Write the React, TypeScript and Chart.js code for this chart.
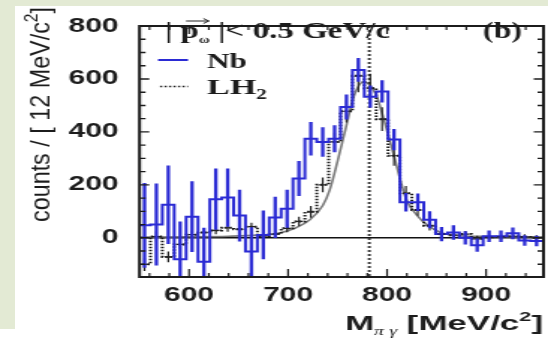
import React, { useEffect, useRef } from "react";
import { Chart, registerables } from "chart.js";

Chart.register(...registerables);

// π0γ invariant mass, ω candidates with |p_ω| < 0.5 GeV/c: Nb target vs LH2 reference
const binCenters = [
  555, 567, 579, 591, 603, 615, 627, 639, 651, 663, 675, 687, 699, 711, 723, 735, 747,
  759, 771, 783, 795, 807, 819, 831, 843, 855, 867, 879, 891, 903, 915, 927, 939, 951,
];
const nbCounts = [
  47, 50, 125, -81, 80, -90, 146, 152, 84, -52, 11, 77, 110, 224, 374, 362, 374,
  494, 634, 533, 553, 371, 134, 134, 68, 14, 20, 0, -28, 6, 6, 17, -10, -12,
];
const nbErrors = [
  160, 155, 148, 143, 134, 128, 116, 110, 98, 92, 92, 78, 72, 66, 63, 56, 51,
  47, 45, 42, 42, 40, 35, 33, 32, 27, 27, 25, 25, 22, 22, 22, 20, 20,
];
const lh2Counts = [
  -100, 5, -72, -25, 12, 20, 28, 38, 32, 42, 6, 14, 36, 62, 98, 200, 362,
  478, 612, 565, 448, 310, 168, 105, 46, 14, 10, 14, -4, 2, 4, 6, 3, 0,
];
const lh2Errors = [
  25, 20, 20, 18, 15, 15, 15, 15, 15, 15, 12, 14, 15, 18, 22, 28, 35,
  42, 62, 55, 45, 38, 28, 22, 18, 14, 12, 12, 12, 10, 10, 10, 10, 10,
];
// line-shape curve
const fitMass = [
  550, 600, 640, 670, 690, 708, 722, 735, 742, 750, 758, 766, 772, 776, 781, 785,
  790, 795, 800, 808, 813, 820, 830, 840, 854, 874, 900, 958,
];
const fitCounts = [
  3, 4, 6, 10, 17, 38, 68, 122, 180, 290, 410, 530, 578, 590, 582, 565,
  530, 470, 404, 296, 224, 140, 86, 50, 20, 8, 5, 3,
];
const xTickValues = [600, 700, 800, 900];
const yTickValues = [0, 200, 400, 600, 800];
const omegaMass = 782;

const X_MIN = 550;
const X_MAX = 958;
const Y_MIN = -148;
const Y_MAX = 800;

// the figure is drawn on a narrower canvas and widened horizontally
const STAGE_W = 548;
const STAGE_H = 339;
const CANVAS_W = 366;
const SX = STAGE_W / CANVAS_W;
const cx = (px: number) => px / SX;

const NB_BLUE = "#2b2bd4";
const INK = "#1c1c1c";
const SANS = "'Liberation Sans', Arial, Helvetica, sans-serif";
const SERIF = "'Liberation Serif', 'Times New Roman', serif";

const halfBin = (binCenters[1] - binCenters[0]) / 2;

function stepPoints(values: number[]) {
  const pts = binCenters.map((c, i) => ({ x: c - halfBin, y: values[i] }));
  const last = binCenters.length - 1;
  pts.push({ x: binCenters[last] + halfBin, y: values[last] });
  return pts;
}

type Piece = { t: string; font: string; dy?: number };

function drawFitted(
  ctx: CanvasRenderingContext2D,
  pieces: Piece[],
  x: number,
  y: number,
  width: number,
  color: string,
  decorate?: (c: CanvasRenderingContext2D, starts: number[], widths: number[]) => void
) {
  ctx.save();
  const widths: number[] = [];
  let total = 0;
  for (const p of pieces) {
    ctx.font = p.font;
    const w = ctx.measureText(p.t).width;
    widths.push(w);
    total += w;
  }
  const s = width / total;
  ctx.translate(x, y);
  ctx.scale(s, 1);
  ctx.fillStyle = color;
  ctx.strokeStyle = color;
  ctx.textAlign = "left";
  ctx.textBaseline = "alphabetic";
  const starts: number[] = [];
  let pos = 0;
  pieces.forEach((p, i) => {
    starts.push(pos);
    ctx.font = p.font;
    ctx.fillText(p.t, pos, p.dy || 0);
    pos += widths[i];
  });
  if (decorate) decorate(ctx, starts, widths);
  ctx.restore();
}

const decorPlugin = {
  id: "histDecor",
  beforeDatasetsDraw(chart: any) {
    const { ctx, chartArea: a, scales } = chart;
    const y0 = scales.y.getPixelForValue(0);
    ctx.save();
    ctx.beginPath();
    ctx.rect(a.left, a.top, a.right - a.left, a.bottom - a.top);
    ctx.clip();
    ctx.strokeStyle = "#111";
    ctx.lineWidth = 1.6;
    ctx.beginPath();
    ctx.moveTo(a.left, y0);
    ctx.lineTo(a.right, y0);
    ctx.stroke();
    ctx.restore();
  },
  afterDatasetsDraw(chart: any) {
    const { ctx, chartArea: a, scales } = chart;
    const xs = scales.x;
    const ys = scales.y;
    ctx.save();
    ctx.beginPath();
    ctx.rect(a.left, a.top, a.right - a.left, a.bottom - a.top);
    ctx.clip();

    // ω pole mass
    const xm = xs.getPixelForValue(omegaMass);
    ctx.setLineDash([2, 2]);
    ctx.lineWidth = 1.9;
    ctx.strokeStyle = "#333";
    ctx.beginPath();
    ctx.moveTo(xm, a.top);
    ctx.lineTo(xm, a.bottom);
    ctx.stroke();
    ctx.setLineDash([]);

    const bars = (vals: number[], errs: number[], color: string, w: number, cap: number) => {
      ctx.strokeStyle = color;
      ctx.lineWidth = w;
      binCenters.forEach((c, i) => {
        const px = xs.getPixelForValue(c);
        const py = ys.getPixelForValue(vals[i]);
        ctx.beginPath();
        ctx.moveTo(px, ys.getPixelForValue(vals[i] - errs[i]));
        ctx.lineTo(px, ys.getPixelForValue(vals[i] + errs[i]));
        if (cap > 0) {
          ctx.moveTo(px - cap, py);
          ctx.lineTo(px + cap, py);
        }
        ctx.stroke();
      });
    };
    bars(lh2Counts, lh2Errors, "#222", 1.2, 2.5);
    bars(nbCounts, nbErrors, NB_BLUE, 2.3, 0);
    ctx.restore();
  },
  afterDraw(chart: any) {
    const { ctx, chartArea: a, scales } = chart;
    const xs = scales.x;
    const ys = scales.y;
    ctx.save();

    // frame
    ctx.strokeStyle = INK;
    ctx.lineWidth = 2;
    ctx.strokeRect(a.left, a.top, a.right - a.left, a.bottom - a.top);

    // inward tick marks
    ctx.lineWidth = 1.2;
    for (let v = 560; v < X_MAX; v += 20) {
      const px = xs.getPixelForValue(v);
      const len = v % 100 === 0 ? 8 : 4;
      ctx.beginPath();
      ctx.moveTo(px, a.bottom);
      ctx.lineTo(px, a.bottom - len);
      ctx.moveTo(px, a.top);
      ctx.lineTo(px, a.top + len);
      ctx.stroke();
    }
    ctx.lineWidth = 1.4;
    for (let v = -100; v <= Y_MAX; v += 50) {
      const py = ys.getPixelForValue(v);
      const len = v % 200 === 0 ? 6.5 : 4;
      ctx.beginPath();
      ctx.moveTo(a.left, py);
      ctx.lineTo(a.left + len, py);
      ctx.moveTo(a.right, py);
      ctx.lineTo(a.right - len, py);
      ctx.stroke();
    }

    // selection label with momentum vector arrow
    drawFitted(
      ctx,
      [
        { t: "| ", font: `bold 24px ${SERIF}` },
        { t: "p", font: `bold 24px ${SERIF}` },
        { t: "ω", font: `bold 11px ${SERIF}`, dy: 5 },
        { t: " |< 0.5 GeV/c", font: `bold 24px ${SERIF}` },
      ],
      cx(165),
      37.5,
      cx(390) - cx(165),
      INK,
      (c, starts, widths) => {
        const x1 = starts[1] + widths[1] * 0.3;
        const x2 = starts[2] + widths[2] * 0.9;
        const yy = -16.5;
        c.lineWidth = 1;
        c.beginPath();
        c.moveTo(x1, yy);
        c.lineTo(x2, yy);
        c.moveTo(x2 - 4, yy - 2.5);
        c.lineTo(x2, yy);
        c.lineTo(x2 - 4, yy + 2.5);
        c.stroke();
      }
    );
    drawFitted(ctx, [{ t: "(b)", font: `bold 24px ${SERIF}` }], cx(483), 38, cx(522) - cx(483), INK);

    // legend
    ctx.lineWidth = 2;
    ctx.strokeStyle = NB_BLUE;
    ctx.beginPath();
    ctx.moveTo(cx(158), 60);
    ctx.lineTo(cx(188), 60);
    ctx.stroke();
    ctx.lineWidth = 1.5;
    ctx.strokeStyle = "#222";
    ctx.setLineDash([1.5, 1.5]);
    ctx.beginPath();
    ctx.moveTo(cx(160), 86.5);
    ctx.lineTo(cx(188), 86.5);
    ctx.stroke();
    ctx.setLineDash([]);
    drawFitted(ctx, [{ t: "Nb", font: `bold 22px ${SERIF}` }], cx(207), 68, cx(247) - cx(207), INK);
    drawFitted(
      ctx,
      [
        { t: "LH", font: `bold 22px ${SERIF}` },
        { t: "2", font: `bold 14px ${SERIF}`, dy: 5 },
      ],
      cx(207),
      94,
      cx(267) - cx(207),
      INK
    );

    // axis titles
    drawFitted(
      ctx,
      [
        { t: "M", font: `bold 21px ${SANS}` },
        { t: "π γ", font: `italic 12px ${SERIF}`, dy: 5 },
        { t: " [MeV/c", font: `bold 21px ${SANS}` },
        { t: "2", font: `bold 13px ${SANS}`, dy: -9 },
        { t: "]", font: `bold 21px ${SANS}` },
      ],
      cx(345),
      330,
      cx(543) - cx(345),
      INK
    );
    ctx.save();
    ctx.translate(cx(50), 114.5);
    ctx.rotate(-Math.PI / 2);
    drawFitted(
      ctx,
      [
        { t: "counts / [ 12 MeV/c", font: `18px ${SANS}` },
        { t: "2", font: `12px ${SANS}`, dy: -8 },
        { t: "]", font: `18px ${SANS}` },
      ],
      -107.5,
      0,
      215,
      INK
    );
    ctx.restore();

    ctx.restore();
  },
};

export default function App() {
  const canvasRef = useRef<HTMLCanvasElement | null>(null);

  useEffect(() => {
    const canvas = canvasRef.current;
    if (!canvas) return;
    const chart = new Chart(canvas, {
      type: "line",
      data: {
        datasets: [
          {
            label: "Nb",
            data: stepPoints(nbCounts),
            borderColor: NB_BLUE,
            borderWidth: 2,
            stepped: "before",
            pointRadius: 0,
            fill: false,
            clip: 0,
          },
          {
            label: "LH2",
            data: stepPoints(lh2Counts),
            borderColor: "#1a1a1a",
            borderWidth: 2,
            borderDash: [1.5, 1.5],
            stepped: "before",
            pointRadius: 0,
            fill: false,
            clip: 0,
          },
          {
            label: "fit",
            data: fitMass.map((m, i) => ({ x: m, y: fitCounts[i] })),
            borderColor: "#7a7a7a",
            borderWidth: 1.6,
            cubicInterpolationMode: "monotone",
            pointRadius: 0,
            fill: false,
            clip: 0,
          },
        ],
      } as any,
      options: {
        animation: false,
        responsive: true,
        maintainAspectRatio: false,
        devicePixelRatio: 1,
        events: [],
        layout: { padding: { top: 13, right: 3, bottom: 0, left: 0 } },
        plugins: {
          legend: { display: false },
          tooltip: { enabled: false },
          title: { display: false },
        },
        scales: {
          x: {
            type: "linear",
            min: X_MIN,
            max: X_MAX,
            grid: { display: false, drawTicks: false },
            border: { display: false },
            afterBuildTicks: (axis: any) => {
              axis.ticks = xTickValues.map((v) => ({ value: v }));
            },
            afterFit: (axis: any) => {
              axis.height = 62;
            },
            ticks: {
              autoSkip: false,
              maxRotation: 0,
              padding: 6,
              color: INK,
              font: { family: SANS, size: 20, weight: "bold" },
            },
          },
          y: {
            type: "linear",
            min: Y_MIN,
            max: Y_MAX,
            grid: { display: false, drawTicks: false },
            border: { display: false },
            afterBuildTicks: (axis: any) => {
              axis.ticks = yTickValues.map((v) => ({ value: v }));
            },
            afterFit: (axis: any) => {
              axis.width = 93.2;
            },
            ticks: {
              padding: 14,
              color: INK,
              font: { family: SANS, size: 20, weight: "bold" },
            },
          },
        },
      } as any,
      plugins: [decorPlugin],
    });
    return () => chart.destroy();
  }, []);

  return (
    <div
      style={{
        position: "fixed",
        left: 0,
        top: 0,
        width: STAGE_W,
        height: STAGE_H,
        overflow: "hidden",
        background: "#e3ead4",
      }}
    >
      <div style={{ position: "absolute", left: 15, top: 6, right: 0, bottom: 0, background: "#fff" }} />
      <div style={{ position: "absolute", left: 0, top: 329, width: 15, height: 10, background: "#fff" }} />
      <div
        style={{
          position: "absolute",
          left: 0,
          top: 0,
          width: CANVAS_W,
          height: STAGE_H,
          transform: `scaleX(${SX})`,
          transformOrigin: "0 0",
        }}
      >
        <canvas ref={canvasRef} />
      </div>
    </div>
  );
}
